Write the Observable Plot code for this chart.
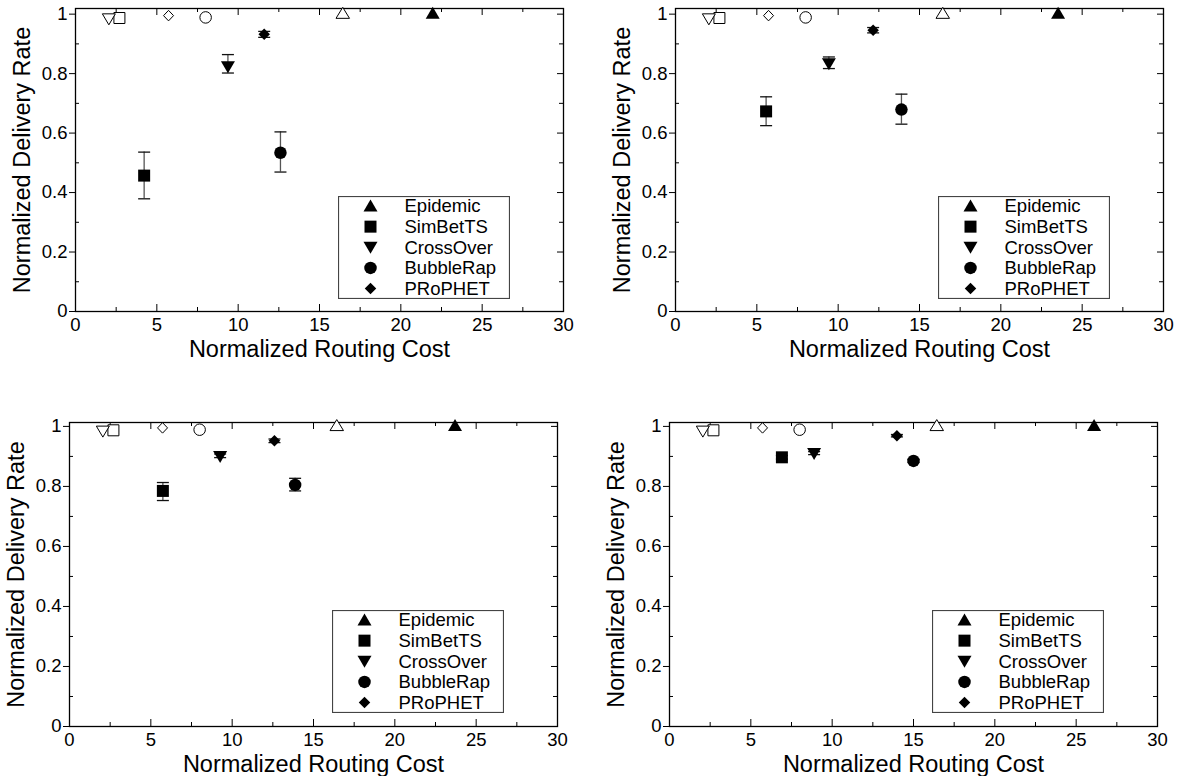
<!DOCTYPE html>
<html><head><meta charset="utf-8">
<script src="https://cdn.jsdelivr.net/npm/d3@7"></script>
<script src="https://cdn.jsdelivr.net/npm/@observablehq/plot@0.6"></script>
<style>
body{margin:0;background:#fff;font-family:"Liberation Sans",Arial,Helvetica,sans-serif;}
#root{position:relative;width:1185px;height:776px;overflow:hidden;}
.panel{position:absolute;}
.legend{position:absolute;}
</style></head><body><div id="root"></div><script>
// ---- data ----
const series = ["Epidemic", "SimBetTS", "CrossOver", "BubbleRap", "PRoPHET"];
// filled markers: one array per panel (order of series)
const costTL = [21.96, 4.22, 9.37, 12.6, 11.6];
const rateTL = [1.0, 0.457, 0.826, 0.534, 0.932];
const lowTL  = [null, 0.379, 0.802, 0.469, 0.922];
const highTL = [null, 0.536, 0.864, 0.604, 0.942];

const costTR = [23.52, 5.57, 9.43, 13.89, 12.15];
const rateTR = [1.0, 0.673, 0.836, 0.679, 0.946];
const lowTR  = [null, 0.625, 0.817, 0.630, 0.937];
const highTR = [null, 0.722, 0.856, 0.731, 0.955];

const costBL = [23.7, 5.74, 9.26, 13.87, 12.6];
const rateBL = [1.0, 0.785, 0.903, 0.805, 0.952];
const lowBL  = [null, 0.753, 0.896, 0.785, 0.946];
const highBL = [null, 0.813, 0.908, 0.827, 0.958];

const costBR = [26.1, 6.91, 8.89, 15.0, 13.98];
const rateBR = [1.0, 0.897, 0.913, 0.885, 0.969];
const lowBR  = [null, 0.891, 0.906, 0.880, 0.965];
const highBR = [null, 0.903, 0.916, 0.890, 0.973];

// hollow markers (same in every panel)
const costOpen = [16.43, 2.7, 2.05, 8.0, 5.72];
const rateOpen = [1.0, 0.987, 0.987, 0.989, 0.995];

// ticks
const xMajor = [0, 5, 10, 15, 20, 25, 30];
const xMinor = [2.5, 7.5, 12.5, 17.5, 22.5, 27.5];
const yMajor = [0, 0.2, 0.4, 0.6, 0.8, 1];
const yMinor = [0.1, 0.3, 0.5, 0.7, 0.9];

const xLabel = "Normalized Routing Cost";
const yLabel = "Normalized Delivery Rate";

// ---- symbols ----
function tri(w, h, down) {
  return {draw(c) {
    const s = down ? -1 : 1;
    c.moveTo(0, -s * h * 0.62); c.lineTo(w / 2, s * h * 0.38); c.lineTo(-w / 2, s * h * 0.38); c.closePath();
  }};
}
function sq(a) { return {draw(c) { c.rect(-a / 2, -a / 2, a, a); }}; }
function circ(d) { return {draw(c) { c.moveTo(d / 2, 0); c.arc(0, 0, d / 2, 0, 2 * Math.PI); c.closePath(); }}; }
function dia(w, h) { return {draw(c) { c.moveTo(0, -h / 2); c.lineTo(w / 2, 0); c.lineTo(0, h / 2); c.lineTo(-w / 2, 0); c.closePath(); }}; }
const filledSym = {
  Epidemic: tri(14, 12, false), SimBetTS: sq(12), CrossOver: tri(14, 12, true),
  BubbleRap: circ(12.5), PRoPHET: dia(11.5, 11.5)
};
const openSym = {
  Epidemic: tri(13.5, 11, false), SimBetTS: sq(11), CrossOver: tri(13, 11, true),
  BubbleRap: circ(11.5), PRoPHET: dia(10, 10.5)
};
const capSym = {draw(c) { c.moveTo(-6, 0); c.lineTo(6, 0); }};

// ---- panels ----
const panels = [
  {left: 0,   top: 0,   ml: 75, mt: 8, plotH: 303, ymax: 1.019, cost: costTL, rate: rateTL, low: lowTL, high: highTL},
  {left: 600, top: 0,   ml: 75, mt: 8, plotH: 303, ymax: 1.019, cost: costTR, rate: rateTR, low: lowTR, high: highTR},
  {left: 0,   top: 414, ml: 69, mt: 8, plotH: 304, ymax: 1.013, cost: costBL, rate: rateBL, low: lowBL, high: highBL},
  {left: 600, top: 414, ml: 69, mt: 8, plotH: 304, ymax: 1.013, cost: costBR, rate: rateBR, low: lowBR, high: highBR}
];
const plotW = 488, mr = 20, mb = 52;
const root = document.getElementById("root");

for (const p of panels) {
  const pts = series.map((s, i) => ({series: s, x: p.cost[i], y: p.rate[i], lo: p.low[i], hi: p.high[i]}));
  const errs = pts.filter(d => d.lo != null);
  const open = series.map((s, i) => ({series: s, x: costOpen[i], y: rateOpen[i]}));
  const marks = [
    // inward tick marks
    Plot.ruleX(xMajor, {insetTop: p.plotH - 7, stroke: "black"}),
    Plot.ruleX(xMajor, {insetBottom: p.plotH - 7, stroke: "black"}),
    Plot.ruleX(xMinor, {insetTop: p.plotH - 4, stroke: "black"}),
    Plot.ruleX(xMinor, {insetBottom: p.plotH - 4, stroke: "black"}),
    Plot.ruleY(yMajor, {insetLeft: plotW - 6, stroke: "black"}),
    Plot.ruleY(yMinor, {insetLeft: plotW - 4, stroke: "black"}),
    Plot.ruleY(yMinor, {insetRight: plotW - 4, stroke: "black"}),
    Plot.axisX({ticks: xMajor, tickSize: 0, tickPadding: 6, label: null, fontSize: 18.5, tickFormat: d => String(d)}),
    Plot.axisY({ticks: yMajor, tickSize: 6, tickPadding: 2, label: null, fontSize: 18.5, tickFormat: d => String(d)}),
    Plot.frame({stroke: "black", strokeWidth: 1.3}),
    Plot.text([xLabel], {frameAnchor: "bottom", dy: 38, text: d => d, fontSize: 23.5, textAnchor: "middle", lineAnchor: "middle"}),
    Plot.text([yLabel], {frameAnchor: "left", dx: -53, rotate: -90, text: d => d, fontSize: 23.5, textAnchor: "middle", lineAnchor: "middle"}),
    // error bars
    Plot.ruleX(errs, {x: "x", y1: "lo", y2: "hi", stroke: "#555", strokeWidth: 1.3}),
    Plot.dot(errs, {x: "x", y: "lo", symbol: capSym, fill: "none", stroke: "#111", strokeWidth: 1.3}),
    Plot.dot(errs, {x: "x", y: "hi", symbol: capSym, fill: "none", stroke: "#111", strokeWidth: 1.3})
  ];
  for (const s of series) {
    marks.push(Plot.dot(open.filter(d => d.series === s), {x: "x", y: "y", symbol: openSym[s], fill: "white", stroke: "black", strokeWidth: 1}));
    marks.push(Plot.dot(pts.filter(d => d.series === s), {x: "x", y: "y", symbol: filledSym[s], fill: "black", stroke: "none"}));
  }
  const chart = Plot.plot({
    width: p.ml + plotW + mr,
    height: p.mt + p.plotH + mb,
    marginLeft: p.ml, marginRight: mr, marginTop: p.mt, marginBottom: mb,
    x: {domain: [0, 30]},
    y: {domain: [0, p.ymax]},
    style: {fontFamily: '"Liberation Sans", Arial, sans-serif', fontSize: "18.5px", color: "black", background: "white", overflow: "visible"},
    marks
  });

  const div = document.createElement("div");
  div.className = "panel";
  div.style.left = p.left + "px";
  div.style.top = p.top + "px";
  div.appendChild(chart);

  // legend box inside the frame
  const lw = 172, lh = 103;
  const ns = "http://www.w3.org/2000/svg";
  const lg = document.createElementNS(ns, "svg");
  lg.setAttribute("width", lw); lg.setAttribute("height", lh);
  lg.setAttribute("class", "legend");
  lg.style.left = (p.ml + 263) + "px";
  lg.style.top = (p.mt + 188) + "px";
  const box = document.createElementNS(ns, "rect");
  box.setAttribute("x", 0.5); box.setAttribute("y", 0.5);
  box.setAttribute("width", lw - 1); box.setAttribute("height", lh - 1);
  box.setAttribute("fill", "white"); box.setAttribute("stroke", "#444"); box.setAttribute("stroke-width", 1.2);
  lg.appendChild(box);
  series.forEach((s, i) => {
    const cy = 10 + i * 20.65;
    const path = d3.path();
    filledSym[s].draw(path);
    const pe = document.createElementNS(ns, "path");
    pe.setAttribute("d", path.toString());
    pe.setAttribute("transform", `translate(32.5,${cy + (s === "Epidemic" ? 1 : s === "CrossOver" ? -1 : 0)})`);
    pe.setAttribute("fill", "black");
    lg.appendChild(pe);
    const t = document.createElementNS(ns, "text");
    t.setAttribute("x", 66.5); t.setAttribute("y", cy);
    t.setAttribute("dy", "0.35em");
    t.setAttribute("font-size", "18.5px");
    t.setAttribute("font-family", '"Liberation Sans", Arial, sans-serif');
    t.textContent = s;
    lg.appendChild(t);
  });
  div.appendChild(lg);
  root.appendChild(div);
}
</script></body></html>
